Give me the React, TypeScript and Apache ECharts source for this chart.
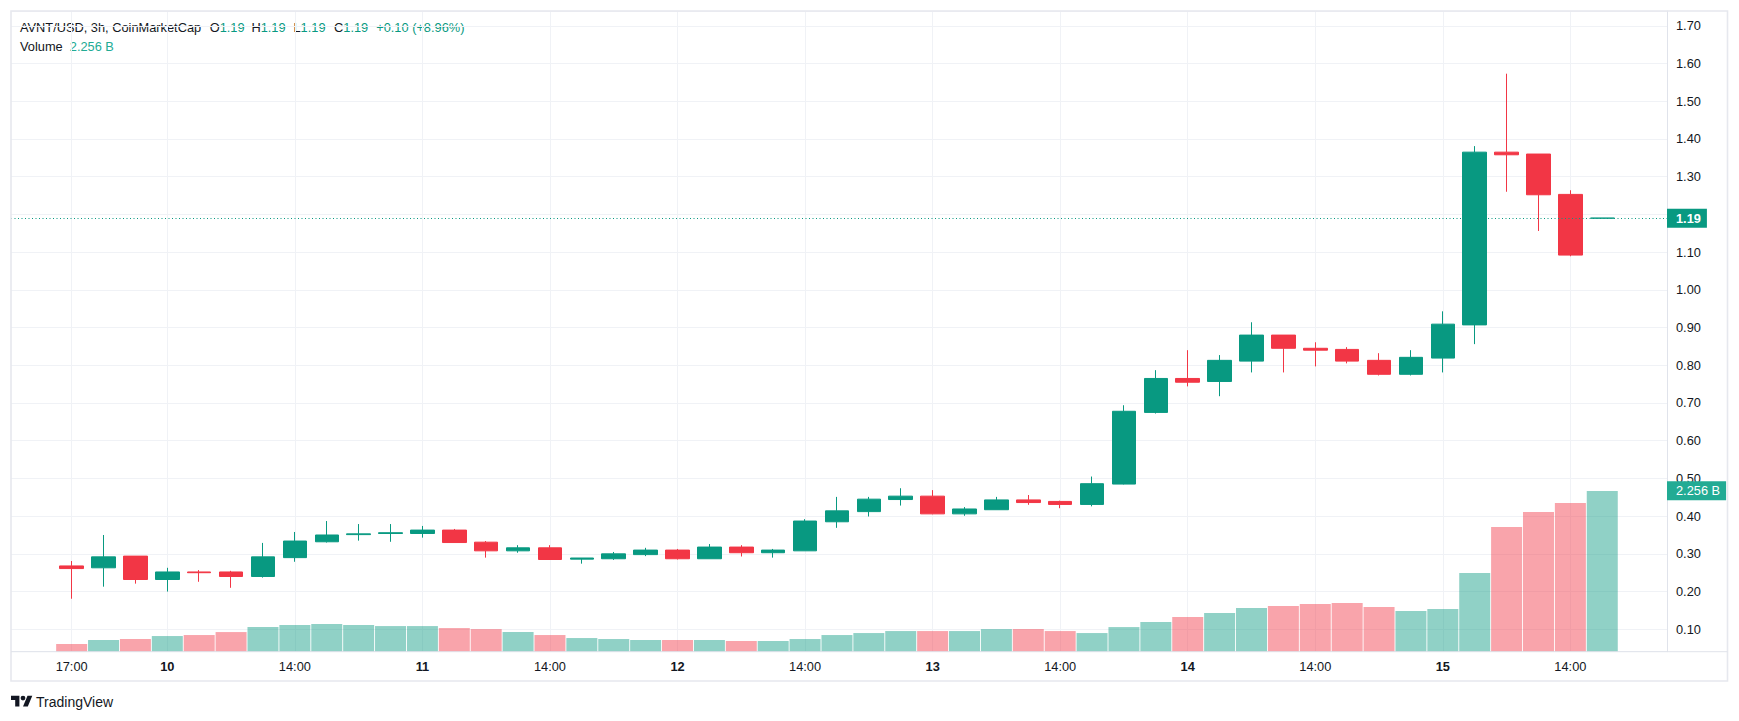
import React, { useEffect, useRef } from "react";
import * as echarts from "echarts";

const title = "AVNT/USD, 3h, CoinMarketCap";

// 3-hour candles from the 9th 17:00 to the 15th 17:00: [open, close, low, high]
const candles: number[][] = [
  [0.268, 0.261, 0.181, 0.281],
  [0.263, 0.292, 0.213, 0.35],
  [0.294, 0.232, 0.221, 0.294],
  [0.232, 0.252, 0.2, 0.263],
  [0.252, 0.25, 0.226, 0.257],
  [0.252, 0.24, 0.21, 0.255],
  [0.24, 0.292, 0.237, 0.329],
  [0.29, 0.334, 0.279, 0.358],
  [0.332, 0.35, 0.33, 0.387],
  [0.351, 0.353, 0.335, 0.379],
  [0.354, 0.356, 0.332, 0.379],
  [0.354, 0.363, 0.343, 0.374],
  [0.363, 0.33, 0.33, 0.366],
  [0.331, 0.308, 0.29, 0.334],
  [0.308, 0.316, 0.303, 0.323],
  [0.316, 0.285, 0.284, 0.323],
  [0.286, 0.289, 0.274, 0.289],
  [0.287, 0.3, 0.284, 0.305],
  [0.298, 0.31, 0.294, 0.316],
  [0.31, 0.287, 0.285, 0.313],
  [0.287, 0.318, 0.287, 0.326],
  [0.318, 0.303, 0.293, 0.323],
  [0.303, 0.31, 0.29, 0.313],
  [0.308, 0.387, 0.308, 0.392],
  [0.385, 0.414, 0.369, 0.451],
  [0.412, 0.445, 0.399, 0.451],
  [0.444, 0.453, 0.428, 0.474],
  [0.453, 0.406, 0.405, 0.469],
  [0.406, 0.419, 0.401, 0.424],
  [0.417, 0.443, 0.417, 0.451],
  [0.443, 0.436, 0.43, 0.456],
  [0.439, 0.431, 0.421, 0.441],
  [0.431, 0.486, 0.426, 0.505],
  [0.485, 0.678, 0.484, 0.694],
  [0.675, 0.765, 0.672, 0.787],
  [0.765, 0.755, 0.744, 0.84],
  [0.757, 0.813, 0.718, 0.827],
  [0.811, 0.88, 0.781, 0.914],
  [0.88, 0.845, 0.781, 0.88],
  [0.845, 0.84, 0.797, 0.861],
  [0.842, 0.811, 0.805, 0.848],
  [0.813, 0.776, 0.773, 0.832],
  [0.776, 0.821, 0.773, 0.84],
  [0.819, 0.909, 0.781, 0.943],
  [0.907, 1.365, 0.856, 1.381],
  [1.365, 1.358, 1.26, 1.573],
  [1.36, 1.252, 1.156, 1.36],
  [1.253, 1.0921, 1.089, 1.264],
  [1.19, 1.19, 1.19, 1.19],
];

// Volume per candle, in billions
const volumes: number[] = [
  0.108, 0.164, 0.178, 0.22, 0.234, 0.276, 0.346, 0.375, 0.389, 0.375, 0.36, 0.36,
  0.332, 0.318, 0.276, 0.234, 0.192, 0.178, 0.164, 0.164, 0.164, 0.15, 0.15, 0.178,
  0.234, 0.262, 0.29, 0.29, 0.29, 0.318, 0.318, 0.29, 0.262, 0.346, 0.417, 0.487,
  0.543, 0.613, 0.641, 0.669, 0.683, 0.627, 0.571, 0.599, 1.105, 1.751, 1.962, 2.088,
  2.256,
];

// Time-axis ticks: candle index and its label (day numbers are drawn bold)
const timeTickIndex = [0, 3, 7, 11, 15, 19, 23, 27, 31, 35, 39, 43, 47];
const timeTickLabels = ["17:00", "10", "14:00", "11", "14:00", "12", "14:00", "13", "14:00", "14", "14:00", "15", "14:00"];
const dayLabels = ["10", "11", "12", "13", "14", "15"];

const UP = "#089981";
const DOWN = "#f23645";
const UP_VOL = "rgba(8,153,129,0.45)";
const DOWN_VOL = "rgba(242,54,69,0.45)";
const VOL_TAG = "#22ab94";
const TEXT = "#131722";
const GRID = "#f0f2f6";
const BORDER = "#e0e3eb";
const FONT = "'Liberation Sans', Arial, sans-serif";
const FS = 12.8;

echarts.graphic.registerShape(
  "tvLogo",
  echarts.graphic.extendPath(
    "M14 22H7V11H0V4h14v18zM28 22h-8l7.5-18h8L28 22zM24 8a4 4 0 1 1-8 0a4 4 0 1 1 8 0z",
    {}
  )
);

export default function App() {
  const ref = useRef<HTMLDivElement>(null);

  useEffect(() => {
    const chart = echarts.init(ref.current!, null, { renderer: "svg" });

    const n = candles.length;
    const last = candles[n - 1];
    const prevClose = candles[n - 2][1];
    const change = last[1] - prevClose;
    const pct = (change / prevClose) * 100;
    const sign = change >= 0 ? "+" : "";
    const changeText = `${sign}${change.toFixed(2)} (${sign}${pct.toFixed(2)}%)`;
    const lastVol = volumes[n - 1];
    const volText = `${lastVol.toFixed(3)} B`;
    const valueColor = last[1] >= last[0] ? UP : DOWN;

    const isUp = (i: number) => {
      const [o, c] = candles[i];
      if (c !== o) return c > o;
      return i === 0 || candles[i - 1][1] <= c;
    };

    const candleData = candles.map((d, i) => [i, d[0], d[1], d[2], d[3]]);
    const volumeData = volumes.map((v, i) => ({
      value: [i, v],
      itemStyle: { color: isUp(i) ? UP_VOL : DOWN_VOL },
    }));

    const headerRich = {
      l: { fill: TEXT, fontSize: FS, fontFamily: FONT },
      v: { fill: valueColor, fontSize: FS, fontFamily: FONT },
      w: { fill: VOL_TAG, fontSize: FS, fontFamily: FONT },
    };
    const txt = (x: number, y: number, text: string) => ({
      type: "text",
      x,
      y,
      silent: true,
      style: { text, fill: TEXT, fontSize: FS, fontFamily: FONT, verticalAlign: "middle", rich: headerRich },
    });

    const option: any = {
      animation: false,
      backgroundColor: "#ffffff",
      grid: { left: 11, right: 72, top: 11, bottom: 69.3, containLabel: false },
      xAxis: {
        type: "value",
        min: -1.902,
        max: 50.03,
        axisLine: { show: false },
        axisTick: { show: false, customValues: timeTickIndex },
        splitLine: { show: true, lineStyle: { color: GRID, width: 1 } },
        axisLabel: {
          customValues: timeTickIndex,
          margin: 8,
          formatter: (v: number) => {
            const k = timeTickIndex.indexOf(Math.round(v));
            const label = k >= 0 ? timeTickLabels[k] : "";
            return dayLabels.includes(label) ? `{d|${label}}` : `{t|${label}}`;
          },
          rich: {
            d: { fontFamily: FONT, fontSize: FS, fontWeight: "bold", color: TEXT, lineHeight: 14 },
            t: { fontFamily: FONT, fontSize: FS, color: TEXT, lineHeight: 14 },
          },
        },
      },
      yAxis: [
        {
          type: "value",
          position: "right",
          min: 0.0406,
          max: 1.7392,
          minInterval: 0.1,
          maxInterval: 0.1,
          axisLine: { show: true, onZero: false, lineStyle: { color: BORDER, width: 1 } },
          axisTick: { show: false },
          splitLine: { show: true, lineStyle: { color: GRID, width: 1 } },
          axisLabel: {
            showMinLabel: false,
            showMaxLabel: false,
            margin: 9,
            color: TEXT,
            fontFamily: FONT,
            fontSize: FS,
            // the last-price tag sits over the nearest scale label
            formatter: (v: number) => (Math.abs(v - last[1]) < 0.03 ? "" : v.toFixed(2)),
          },
        },
        {
          type: "value",
          min: 0,
          max: 9,
          show: false,
          axisLine: { onZero: false },
          splitLine: { show: false },
        },
      ],
      series: [
        {
          type: "bar",
          name: "Volume",
          yAxisIndex: 1,
          barWidth: 31,
          data: volumeData,
          silent: true,
          markLine: {
            silent: true,
            symbol: ["none", "none"],
            data: [{ yAxis: lastVol }],
            lineStyle: { color: "rgba(0,0,0,0)", width: 0 },
            label: {
              show: true,
              position: "end",
              distance: 0,
              formatter: volText,
              color: "#ffffff",
              backgroundColor: VOL_TAG,
              fontFamily: FONT,
              fontSize: FS,
              lineHeight: 13,
              padding: [3, 6, 3, 9],
            },
          },
        },
        {
          type: "candlestick",
          name: "AVNT/USD",
          barWidth: 24,
          data: candleData,
          silent: true,
          itemStyle: {
            color: UP,
            color0: DOWN,
            borderColor: UP,
            borderColor0: DOWN,
            borderWidth: 1,
          },
          markLine: {
            silent: true,
            symbol: ["none", "none"],
            data: [{ yAxis: last[1] }],
            lineStyle: { color: valueColor, width: 1, type: [1, 2.5] },
            label: {
              show: true,
              position: "end",
              distance: 0,
              formatter: last[1].toFixed(2),
              color: "#ffffff",
              backgroundColor: valueColor,
              fontFamily: FONT,
              fontSize: FS,
              fontWeight: "bold",
              lineHeight: 13,
              padding: [3, 6, 3, 9],
            },
          },
        },
      ],
      graphic: [
        {
          type: "rect",
          silent: true,
          z: 100,
          shape: { x: 11, y: 11, width: 1716.5, height: 670 },
          style: { fill: "none", stroke: "#e6e8ee", lineWidth: 1.6 },
        },
        {
          type: "line",
          silent: true,
          z: 100,
          shape: { x1: 11, y1: 651.7, x2: 1727.5, y2: 651.7 },
          style: { stroke: BORDER, lineWidth: 1 },
        },
        txt(20, 27.3, title),
        txt(209.7, 27.3, `{l|O}{v|${last[0].toFixed(2)}}`),
        txt(251.4, 27.3, `{l|H}{v|${last[3].toFixed(2)}}`),
        txt(293.5, 27.3, `{l|L}{v|${last[2].toFixed(2)}}`),
        txt(334.1, 27.3, `{l|C}{v|${last[1].toFixed(2)}}`),
        txt(376.2, 27.3, `{v|${changeText}}`),
        txt(20, 46.7, `{l|Volume}  {w|${volText}}`),
        {
          type: "tvLogo",
          x: 11,
          y: 693.3,
          scaleX: 0.6,
          scaleY: 0.6,
          silent: true,
          style: { fill: TEXT },
        },
        {
          type: "text",
          x: 36,
          y: 701.7,
          silent: true,
          style: { text: "TradingView", fill: TEXT, fontSize: 14, fontFamily: FONT, verticalAlign: "middle" },
        },
      ],
    };

    chart.setOption(option);
    return () => chart.dispose();
  }, []);

  return (
    <div
      ref={ref}
      style={{ position: "absolute", left: 0, top: 0, width: 1739, height: 721 }}
    />
  );
}
